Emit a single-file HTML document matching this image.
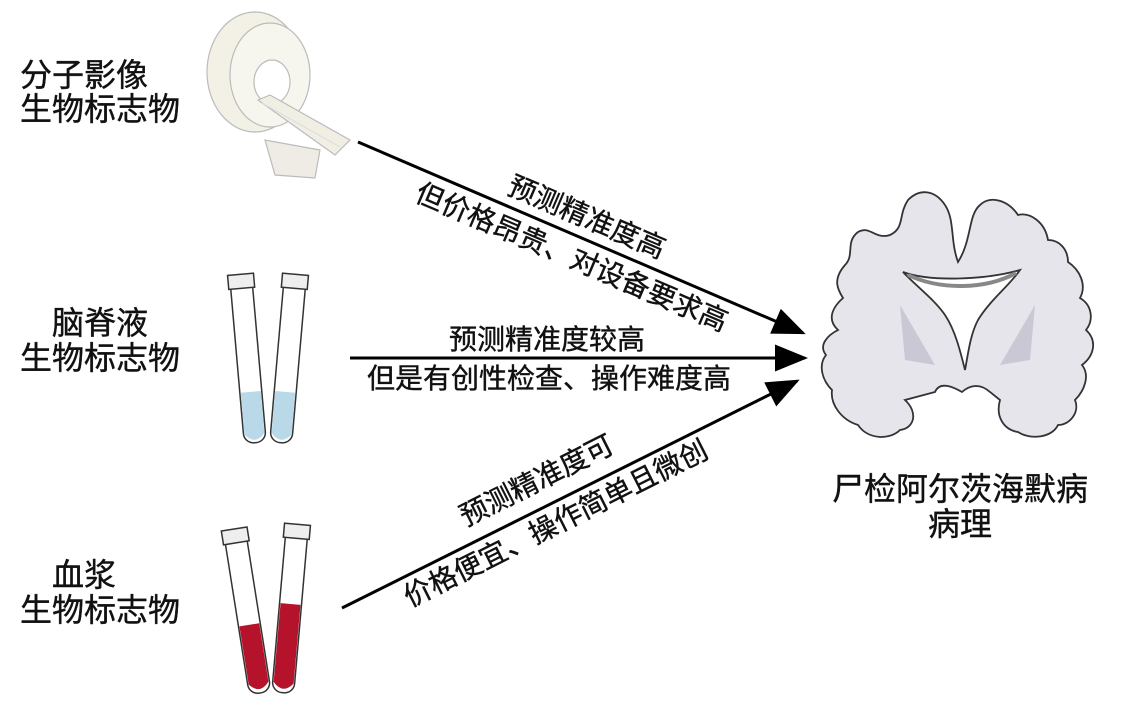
<!DOCTYPE html>
<html><head><meta charset="utf-8"><style>
html,body{margin:0;padding:0;background:#fff;}
svg{display:block;}
text{font-family:"Liberation Sans","Noto Sans CJK SC",sans-serif;fill:#111;stroke:#111;stroke-width:0.4;}
</style></head><body>
<svg width="1130" height="720" viewBox="0 0 1130 720" xmlns="http://www.w3.org/2000/svg">
<defs>
<marker id="ah" markerWidth="11" markerHeight="9" refX="10" refY="4.5" orient="auto" markerUnits="strokeWidth">
<path d="M0,0 L11,4.5 L0,9 z" fill="#000"/></marker>
</defs>
<g font-size="32">
<text x="20" y="86">分子影像</text>
<text x="20" y="120">生物标志物</text>
<text x="52" y="334">脑脊液</text>
<text x="20" y="369">生物标志物</text>
<text x="52" y="586">血浆</text>
<text x="20" y="621">生物标志物</text>
</g>
<!-- MRI -->
<g stroke="#bbb" stroke-width="1.2">
<ellipse cx="255" cy="72" rx="48" ry="60" fill="#f3f1e6"/>
<ellipse cx="270" cy="75" rx="40" ry="52" fill="#f7f6ee"/>
<ellipse cx="272" cy="82" rx="18" ry="22" fill="#fff"/>
<path d="M265 140 L275 175 L315 178 L320 150 Z" fill="#eeece4"/>
<path d="M258 100 L270 95 L350 140 L335 155 Z" fill="#f1efe4"/>
<path d="M262 103 L340 147" stroke="#ddd"/>
</g>
<!-- CSF tubes -->
<g stroke="#333" stroke-width="1.5">
<g transform="rotate(-5 248 360)">
<rect x="237" y="278" width="22" height="165" rx="10" fill="#fff"/>
<path d="M238 392 L258 392 L258 434 Q248 446 238 434 Z" fill="#b9d8e8" stroke="none"/>
<rect x="235" y="274" width="26" height="14" fill="#eee"/>
</g>
<g transform="rotate(5 288 360)">
<rect x="277" y="278" width="22" height="165" rx="10" fill="#fff"/>
<path d="M278 392 L298 392 L298 434 Q288 446 278 434 Z" fill="#b9d8e8" stroke="none"/>
<rect x="275" y="274" width="26" height="14" fill="#eee"/>
</g>
<g transform="rotate(-9 247 610)">
<rect x="236" y="532" width="22" height="162" rx="10" fill="#fff"/>
<path d="M237 625 L257 625 L257 684 Q247 696 237 684 Z" fill="#b5122c" stroke="none"/>
<rect x="234" y="528" width="26" height="14" fill="#eee"/>
</g>
<g transform="rotate(5 290 610)">
<rect x="279" y="528" width="22" height="165" rx="10" fill="#fff"/>
<path d="M280 604 L300 604 L300 683 Q290 695 280 683 Z" fill="#b5122c" stroke="none"/>
<rect x="277" y="524" width="26" height="14" fill="#eee"/>
</g>
</g>
<!-- arrows -->
<g stroke="#000" stroke-width="3" fill="none">
<line x1="358" y1="142" x2="803" y2="333" marker-end="url(#ah)"/>
<line x1="350" y1="358" x2="805" y2="358" marker-end="url(#ah)"/>
<line x1="342" y1="608" x2="797" y2="381" marker-end="url(#ah)"/>
</g>
<g font-size="28" text-anchor="middle">
<text transform="translate(583,226) rotate(23.1)">预测精准度高</text>
<text transform="translate(568,266) rotate(23.1)">但价格昂贵、对设备要求高</text>
<text x="547" y="349">预测精准度较高</text>
<text x="549" y="388">但是有创性检查、操作难度高</text>
<text transform="translate(541,489) rotate(-26.7)">预测精准度可</text>
<text transform="translate(560,532) rotate(-26.7)">价格便宜、操作简单且微创</text>
</g>
<!-- brain -->
<g stroke="#333" stroke-width="1.8">
<path d="M958 262 C950 240 955 220 945 205 C935 190 920 188 908 200 C898 215 905 228 890 235 C875 240 870 225 858 232 C845 242 855 255 845 265 C832 280 838 290 843 298 C835 305 825 318 838 330 C828 335 818 345 826 355 C818 365 822 380 832 390 C830 405 842 420 858 425 C868 440 890 440 900 430 C915 428 918 412 905 400 L935 392 C940 380 955 388 962 392 C970 385 980 383 990 392 L1000 400 C995 418 1005 430 1018 432 C1030 440 1052 438 1058 425 C1070 425 1080 412 1075 400 C1085 390 1090 375 1082 365 C1095 355 1097 340 1086 330 C1094 320 1092 305 1080 298 C1087 285 1080 270 1068 262 C1068 250 1060 240 1048 240 C1045 222 1030 212 1018 215 C1008 200 990 195 980 205 C968 215 972 240 958 262 Z" fill="#e6e5ec"/>
<path d="M903 272 C930 282 985 280 1020 270 C1010 285 990 300 978 320 C970 335 968 355 965 370 C960 350 955 330 945 315 C935 300 915 285 903 272 Z" fill="#fff"/>
<path d="M908 275 C940 290 985 290 1016 273" fill="none" stroke="#888" stroke-width="4"/>
<path d="M900 305 L905 360 L935 365 Z" fill="#c9c8d4" stroke="none"/>
<path d="M1035 305 L1030 360 L1000 365 Z" fill="#c9c8d4" stroke="none"/>
</g>
<g font-size="32" text-anchor="middle">
<text x="960" y="500">尸检阿尔茨海默病</text>
<text x="960" y="535">病理</text>
</g>
</svg>
</body></html>
